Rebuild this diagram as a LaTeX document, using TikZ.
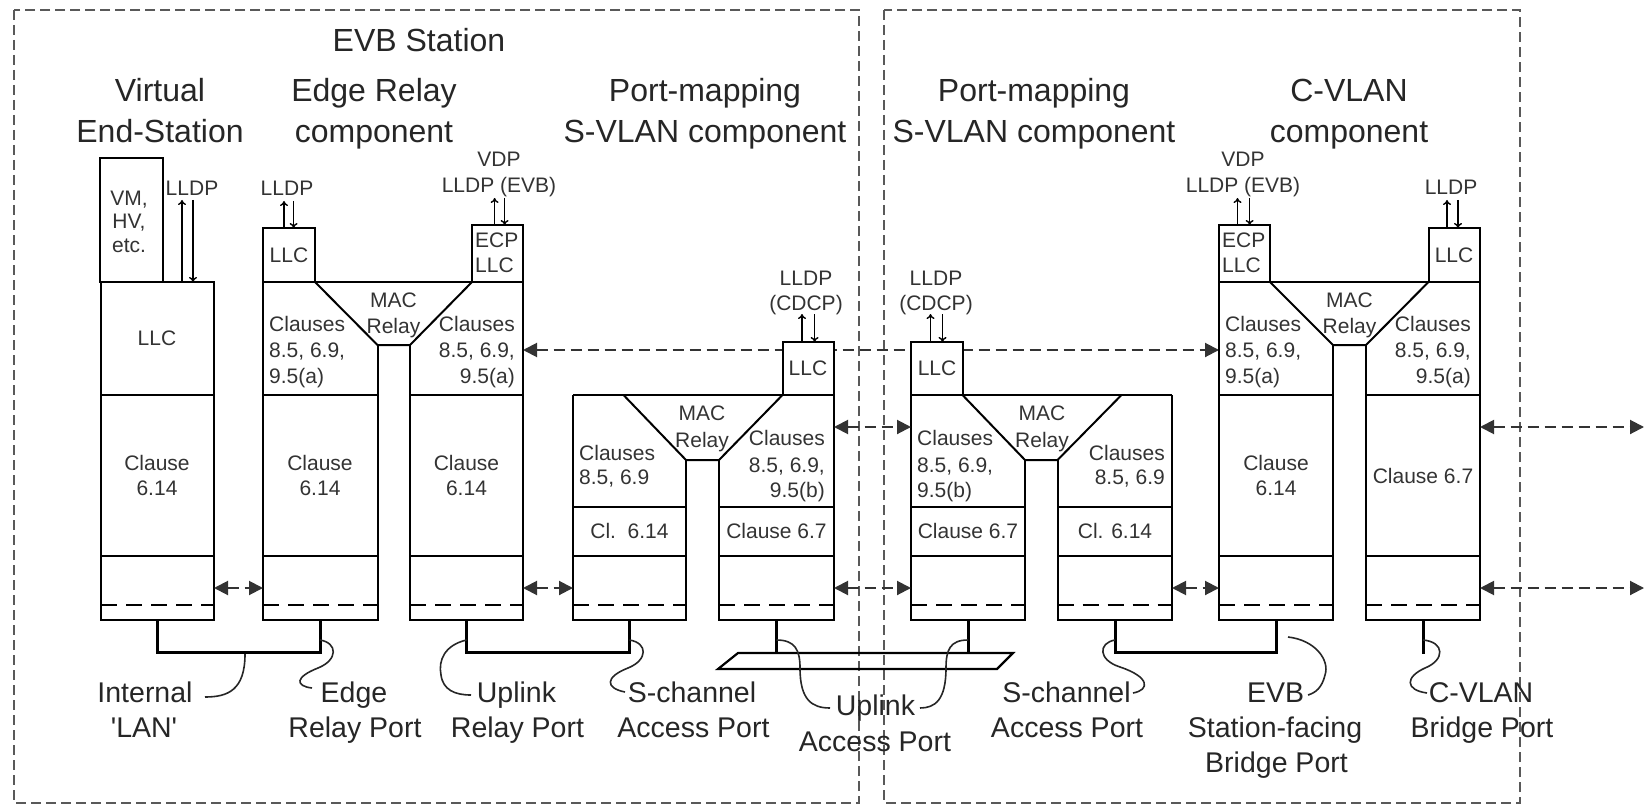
\documentclass[tikz,border=0pt]{standalone}
\usepackage{fontspec}
\setmainfont{Liberation Sans}
\usetikzlibrary{arrows.meta}
\begin{document}
\begin{tikzpicture}[x=1pt,y=-1pt,line join=miter,
  frame/.style={draw=black!65,line width=2pt,dash pattern=on 10pt off 5pt},
  wall/.style={draw=black,line width=2pt},
  dsep/.style={draw=black,line width=1.8pt,dash pattern=on 16pt off 9pt},
  link/.style={draw=black,line width=3pt},
  lead/.style={draw=black!85,line width=1.6pt},
  big/.style={font=\fontsize{32}{38}\selectfont,text=black!85,inner sep=0pt,anchor=base},
  lab/.style={font=\fontsize{28.5}{34}\selectfont,text=black!85,inner sep=0pt,anchor=base},
  sm/.style={font=\fontsize{21}{25}\selectfont,text=black!80,inner sep=0pt,anchor=base},
  darr/.style={draw=black!80,line width=2pt,dash pattern=on 11pt off 6pt,{Triangle[length=14pt,width=14pt]}-{Triangle[length=14pt,width=14pt]}},
  parr/.style={draw=black,line width=1.4pt,-{To[length=5pt,width=8pt]}},
]
\useasboundingbox (0,0) rectangle (1648,805);
% ---------- frames
\draw[frame] (14,10) rectangle (859,803);
\draw[frame] (884,10) rectangle (1520,803);

% ---------- long dashed arrow (behind boxes)
\coordinate (a1L) at (523,350);
\coordinate (a1R) at (1219,350);
\draw[darr] (a1L) -- (a1R);

% ---------- titles
\node[big] (tEVB) at (419,52) {EVB Station};
\node[big] (tVES1) at (160,102) {Virtual};
\node[big] (tVES2) at (160,143) {End-Station};
\node[big] (tER1) at (374,102) {Edge Relay};
\node[big] (tER2) at (374,143) {component};
\node[big] (tPM1) at (705,102) {Port-mapping};
\node[big] (tPM2) at (705,143) {S-VLAN component};
\node[big] (tPN1) at (1034,102) {Port-mapping};
\node[big] (tPN2) at (1034,143) {S-VLAN component};
\node[big] (tCV1) at (1349,102) {C-VLAN};
\node[big] (tCV2) at (1349,143) {component};

% ---------- Virtual End-Station
\draw[wall,fill=white] (100,158) rectangle (162.5,282);
\draw[wall] (101,282) rectangle (214,620);
\draw[wall] (101,395) -- (214,395);
\draw[wall] (101,556) -- (214,556);
\draw[dsep] (101,605) -- (214,605);
\node[sm] (vm1) at (129,205) {VM,};
\node[sm] (vm2) at (129,228) {HV,};
\node[sm] (vm3) at (129,252) {etc.};
\node[sm] (vllc) at (157,345) {LLC};
\node[sm] (vc1) at (157,470) {Clause};
\node[sm] (vc2) at (157,495) {6.14};
\node[sm] (vlldp) at (192,196) {LLDP};
\draw[parr] (182,282) -- (182,200);
\draw[parr] (193,200) -- (193,282);

% ---------- Edge Relay component
\draw[wall] (263,228) rectangle (315,282);
\draw[wall] (472,225) rectangle (523,282);
\draw[wall] (263,282) -- (523,282);
\draw[wall] (377.5,345) -- (377.5,620) -- (263,620) -- (263,282);
\draw[wall] (410,345) -- (410,620) -- (523,620) -- (523,282);
\draw[wall] (315,282) -- (377.5,345) -- (410,345) -- (472,282);
\draw[wall] (263,395) -- (377.5,395);
\draw[wall] (263,556) -- (377.5,556);
\draw[dsep] (263,605) -- (377.5,605);
\draw[wall] (410,395) -- (523,395);
\draw[wall] (410,556) -- (523,556);
\draw[dsep] (410,605) -- (523,605);
\node[sm] (ellc) at (289,262) {LLC};
\node[sm,anchor=base west] (eecp1) at (475,247) {ECP};
\node[sm,anchor=base west] (eecp2) at (475,272) {LLC};
\node[sm] (elldp) at (287,196) {LLDP};
\draw[parr] (284,228) -- (284,201);
\draw[parr] (293.6,201) -- (293.6,228);
\node[sm] (evdp1) at (499,167) {VDP};
\node[sm] (evdp2) at (499,193) {LLDP (EVB)};
\draw[parr] (494.6,225) -- (494.6,198);
\draw[parr] (504.6,198) -- (504.6,225);
\node[sm] (emac1) at (393.5,307) {MAC};
\node[sm] (emac2) at (393.5,333) {Relay};
\node[sm,anchor=base west] (el1) at (269,331) {Clauses};
\node[sm,anchor=base west] (el2) at (269,357) {8.5, 6.9,};
\node[sm,anchor=base west] (el3) at (269,383) {9.5(a)};
\node[sm,anchor=base east] (er1) at (515,331) {Clauses};
\node[sm,anchor=base east] (er2) at (515,357) {8.5, 6.9,};
\node[sm,anchor=base east] (er3) at (515,383) {9.5(a)};
\node[sm] (elc1) at (320,470) {Clause};
\node[sm] (elc2) at (320,495) {6.14};
\node[sm] (erc1) at (466.5,470) {Clause};
\node[sm] (erc2) at (466.5,495) {6.14};

% ---------- Port-mapping S-VLAN component (station)
\draw[wall,fill=white] (782.5,342) rectangle (834,395);
\draw[wall] (573,395) -- (834,395);
\draw[wall] (686,460) -- (686,620) -- (573,620) -- (573,395);
\draw[wall] (719,460) -- (719,620) -- (834,620) -- (834,395);
\draw[wall] (623.5,395) -- (686,460) -- (719,460) -- (782.5,395);
\draw[wall] (573,507) -- (686,507);
\draw[wall] (573,556) -- (686,556);
\draw[dsep] (573,605) -- (686,605);
\draw[wall] (719,507) -- (834,507);
\draw[wall] (719,556) -- (834,556);
\draw[dsep] (719,605) -- (834,605);
\node[sm] (pllc) at (808,375) {LLC};
\node[sm] (plldp1) at (806,285) {LLDP};
\node[sm] (plldp2) at (806,310) {(CDCP)};
\draw[parr] (802,342) -- (802,314);
\draw[parr] (814.6,314) -- (814.6,342);
\node[sm] (pmac1) at (702,420) {MAC};
\node[sm] (pmac2) at (702,447) {Relay};
\node[sm,anchor=base west] (pl1) at (579,460) {Clauses};
\node[sm,anchor=base west] (pl2) at (579,484) {8.5, 6.9};
\node[sm,anchor=base east] (pr1) at (825,445) {Clauses};
\node[sm,anchor=base east] (pr2) at (825,472) {8.5, 6.9,};
\node[sm,anchor=base east] (pr3) at (825,497) {9.5(b)};
\node[sm] (pcl) at (629.5,538) {Cl.~~6.14};
\node[sm] (pc67) at (776.5,538) {Clause 6.7};

% ---------- Port-mapping S-VLAN component (bridge)
\draw[wall,fill=white] (911,342) rectangle (962.5,395);
\draw[wall] (911,395) -- (1172,395);
\draw[wall] (1025,460) -- (1025,620) -- (911,620) -- (911,395);
\draw[wall] (1057.5,460) -- (1057.5,620) -- (1172,620) -- (1172,395);
\draw[wall] (962.5,395) -- (1025,460) -- (1057.5,460) -- (1121.5,395);
\draw[wall] (911,507) -- (1025,507);
\draw[wall] (911,556) -- (1025,556);
\draw[dsep] (911,605) -- (1025,605);
\draw[wall] (1057.5,507) -- (1172,507);
\draw[wall] (1057.5,556) -- (1172,556);
\draw[dsep] (1057.5,605) -- (1172,605);
\node[sm] (qllc) at (937,375) {LLC};
\node[sm] (qlldp1) at (936,285) {LLDP};
\node[sm] (qlldp2) at (936,310) {(CDCP)};
\draw[parr] (930.5,342) -- (930.5,314);
\draw[parr] (942.5,314) -- (942.5,342);
\node[sm] (qmac1) at (1042,420) {MAC};
\node[sm] (qmac2) at (1042,447) {Relay};
\node[sm,anchor=base west] (ql1) at (917,445) {Clauses};
\node[sm,anchor=base west] (ql2) at (917,472) {8.5, 6.9,};
\node[sm,anchor=base west] (ql3) at (917,497) {9.5(b)};
\node[sm,anchor=base east] (qr1) at (1165,460) {Clauses};
\node[sm,anchor=base east] (qr2) at (1165,484) {8.5, 6.9};
\node[sm] (qc67) at (968,538) {Clause 6.7};
\node[sm] (qcl) at (1115,538) {Cl. 6.14};

% ---------- C-VLAN component
\draw[wall] (1219,225) rectangle (1270,282);
\draw[wall] (1428.5,228) rectangle (1480,282);
\draw[wall] (1219,282) -- (1480,282);
\draw[wall] (1333,345) -- (1333,620) -- (1219,620) -- (1219,282);
\draw[wall] (1366,345) -- (1366,620) -- (1480,620) -- (1480,282);
\draw[wall] (1270,282) -- (1333,345) -- (1366,345) -- (1428.5,282);
\draw[wall] (1219,395) -- (1333,395);
\draw[wall] (1219,556) -- (1333,556);
\draw[dsep] (1219,605) -- (1333,605);
\draw[wall] (1366,395) -- (1480,395);
\draw[wall] (1366,556) -- (1480,556);
\draw[dsep] (1366,605) -- (1480,605);
\node[sm,anchor=base west] (cecp1) at (1222,247) {ECP};
\node[sm,anchor=base west] (cecp2) at (1222,272) {LLC};
\node[sm] (cllc) at (1454,262) {LLC};
\node[sm] (cvdp1) at (1243,167) {VDP};
\node[sm] (cvdp2) at (1243,193) {LLDP (EVB)};
\draw[parr] (1237.5,225) -- (1237.5,198);
\draw[parr] (1249.6,198) -- (1249.6,225);
\node[sm] (clldp) at (1451,195) {LLDP};
\draw[parr] (1447,228) -- (1447,200);
\draw[parr] (1458,200) -- (1458,228);
\node[sm] (cmac1) at (1349.5,307) {MAC};
\node[sm] (cmac2) at (1349.5,333) {Relay};
\node[sm,anchor=base west] (cl1) at (1225,331) {Clauses};
\node[sm,anchor=base west] (cl2) at (1225,357) {8.5, 6.9,};
\node[sm,anchor=base west] (cl3) at (1225,383) {9.5(a)};
\node[sm,anchor=base east] (cr1) at (1471,331) {Clauses};
\node[sm,anchor=base east] (cr2) at (1471,357) {8.5, 6.9,};
\node[sm,anchor=base east] (cr3) at (1471,383) {9.5(a)};
\node[sm] (clc1) at (1276,470) {Clause};
\node[sm] (clc2) at (1276,495) {6.14};
\node[sm] (crc) at (1423,483) {Clause 6.7};

% ---------- short dashed arrows
\coordinate (b1) at (214,588);  \coordinate (b2) at (263,588);
\coordinate (b3) at (523,588);  \coordinate (b4) at (573,588);
\coordinate (b5) at (834,588);  \coordinate (b6) at (911,588);
\coordinate (b7) at (1172,588); \coordinate (b8) at (1219,588);
\coordinate (b9) at (1480,588); \coordinate (b10) at (1644,588);
\coordinate (c1) at (834,427);  \coordinate (c2) at (911,427);
\coordinate (c3) at (1480,427); \coordinate (c4) at (1644,427);
\draw[darr] (b1) -- (b2);
\draw[darr] (b3) -- (b4);
\draw[darr] (b5) -- (b6);
\draw[darr] (b7) -- (b8);
\draw[darr] (b9) -- (b10);
\draw[darr] (c1) -- (c2);
\draw[darr] (c3) -- (c4);

% ---------- LAN links
\draw[link] (157,620) -- (157,652) -- (320,652) -- (320,620);
\draw[link] (466.5,620) -- (466.5,652) -- (629.5,652) -- (629.5,620);
\draw[link] (1115,620) -- (1115,652) -- (1276,652) -- (1276,620);
\draw[link] (776.5,620) -- (776.5,653);
\draw[link] (968,620) -- (968,653);
\draw[link] (1423,620) -- (1423,654);
\draw[wall,line width=2.2pt] (718,669) -- (738,653) -- (1013,653) -- (997,669) -- cycle;

% ---------- leaders
\draw[lead] (245,654) .. controls (245,690) and (228,697) .. (205,697);
\draw[lead] (320,640) .. controls (338,643) and (338,660) .. (318,668) .. controls (295,677) and (295,686) .. (312,688);
\draw[lead] (466.5,640) .. controls (445,645) and (438,660) .. (441,675) .. controls (443,690) and (455,695) .. (471,695);
\draw[lead] (629.5,640) .. controls (648,643) and (648,660) .. (628,668) .. controls (605,677) and (605,688) .. (625,692);
\draw[lead] (776.5,640) .. controls (795,640) and (800,650) .. (800,668) .. controls (800,700) and (812,708) .. (830,708);
\draw[lead] (968,640) .. controls (950,640) and (946,650) .. (946,668) .. controls (946,700) and (935,708) .. (920,708);
\draw[lead] (1115,640) .. controls (1098,643) and (1098,660) .. (1120,667) .. controls (1150,677) and (1150,690) .. (1133,693);
\draw[lead] (1288,637) .. controls (1315,640) and (1330,660) .. (1325,675) .. controls (1322,688) and (1315,693) .. (1308,695);
\draw[lead] (1423,640) .. controls (1445,642) and (1445,660) .. (1425,668) .. controls (1405,677) and (1405,690) .. (1427,693);

% ---------- bottom labels
\node[lab] (lInt1) at (145,702) {Internal};
\node[lab] (lInt2) at (144,737) {\textquotesingle LAN\textquotesingle};
\node[lab] (lEdge1) at (354,702) {Edge};
\node[lab] (lEdge2) at (355,737) {Relay Port};
\node[lab] (lUpr1) at (516.5,702) {Uplink};
\node[lab] (lUpr2) at (517.5,737) {Relay Port};
\node[lab] (lSc1) at (692,702) {S-channel};
\node[lab] (lSc2) at (693.5,737) {Access Port};
\node[lab] (lUpa1) at (875.5,715) {Uplink};
\node[lab] (lUpa2) at (875,751) {Access Port};
\node[lab] (lSd1) at (1066.5,702) {S-channel};
\node[lab] (lSd2) at (1067,737) {Access Port};
\node[lab] (lEvb1) at (1275.5,702) {EVB};
\node[lab] (lEvb2) at (1275,737) {Station-facing};
\node[lab] (lEvb3) at (1276.5,772) {Bridge Port};
\node[lab] (lCv1) at (1481,702) {C-VLAN};
\node[lab] (lCv2) at (1482,737) {Bridge Port};
\end{tikzpicture}
\end{document}
